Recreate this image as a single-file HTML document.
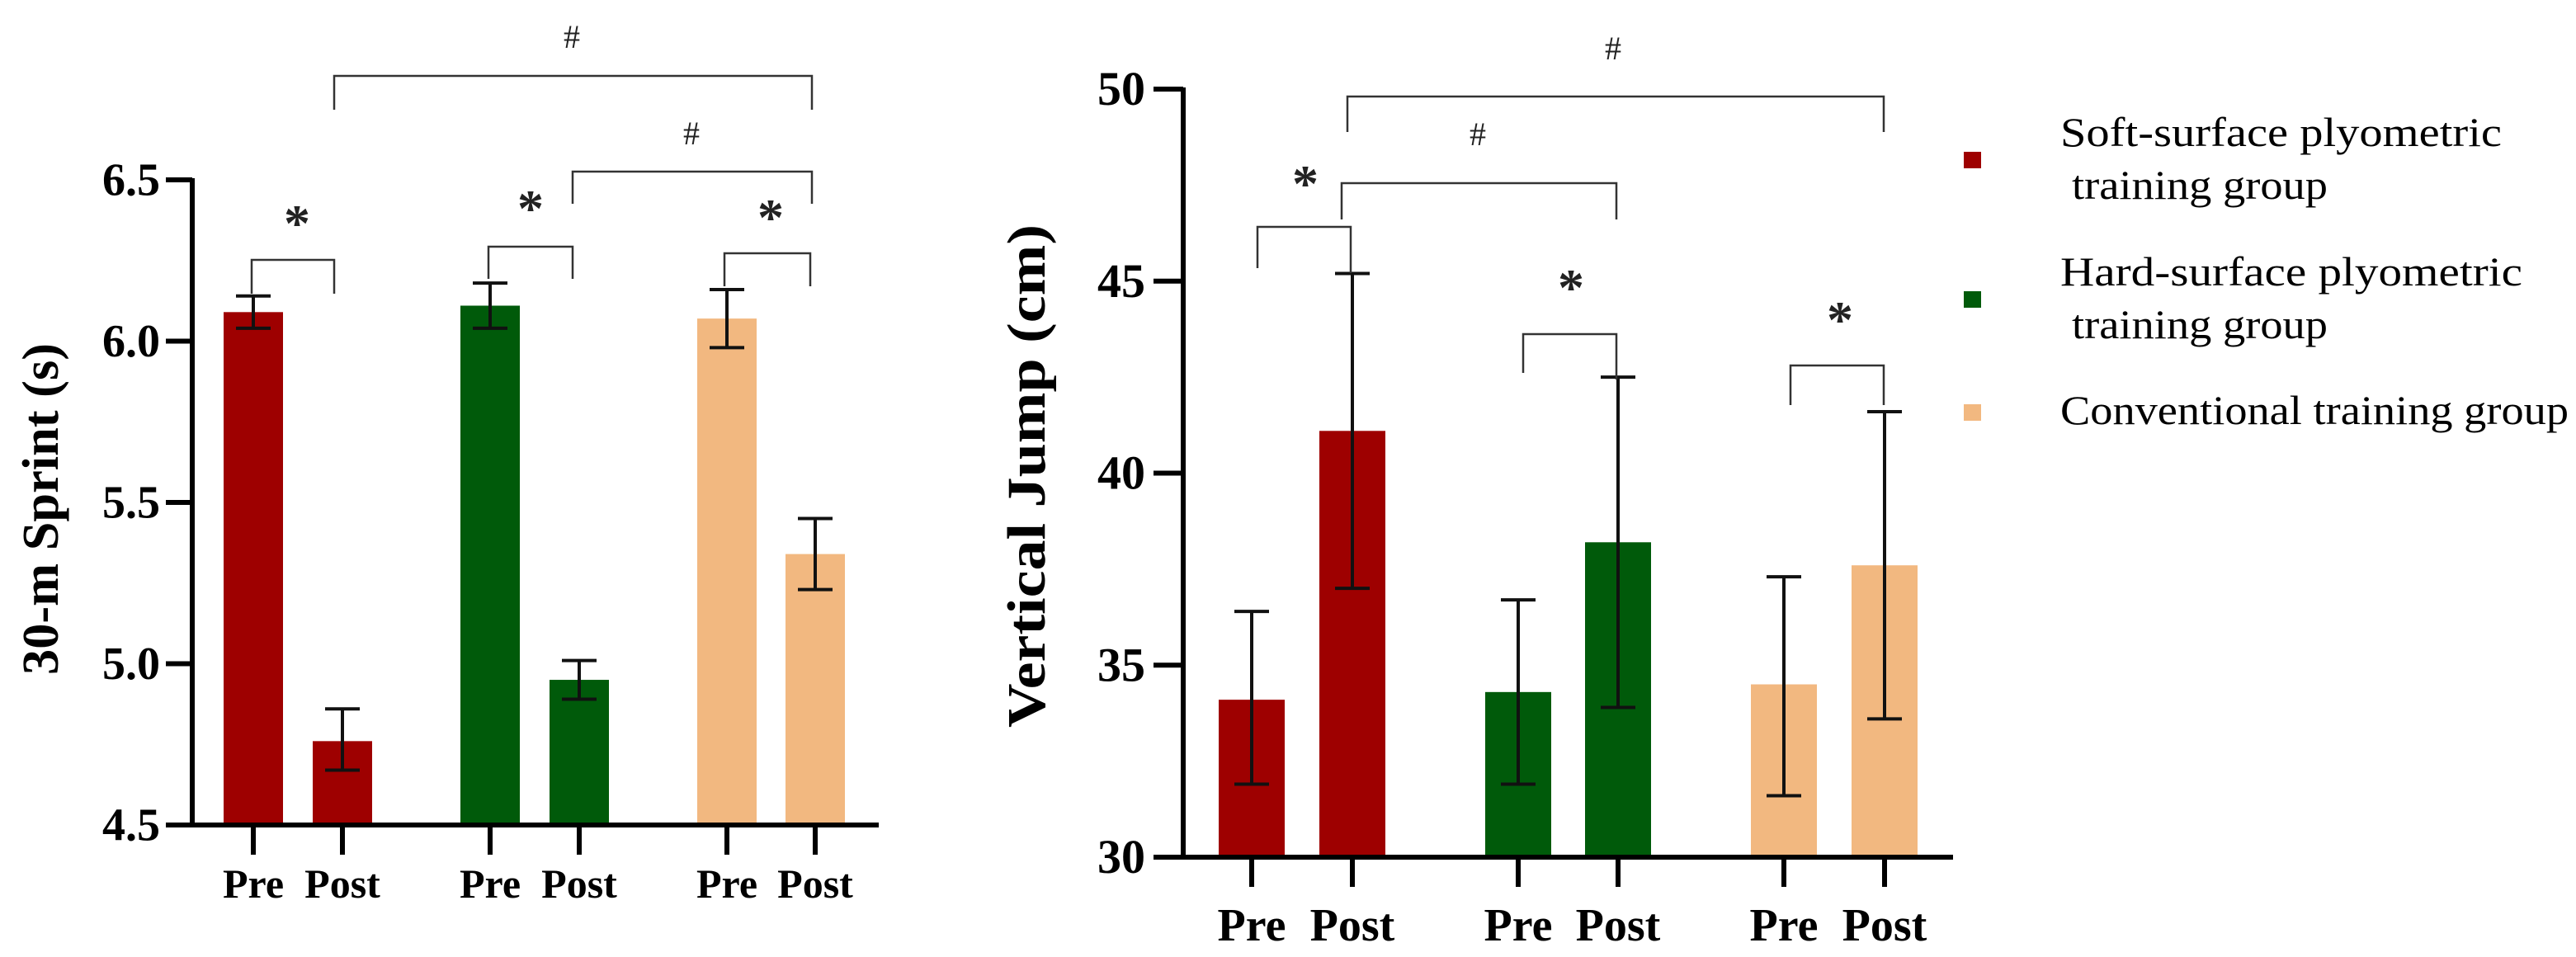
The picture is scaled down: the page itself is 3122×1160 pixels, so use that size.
<!DOCTYPE html>
<html><head><meta charset="utf-8">
<style>
html,body{margin:0;padding:0;background:#fff;}
svg{display:block;}
text{font-family:"Liberation Serif",serif;}
</style></head>
<body>
<svg id="fig" width="3122" height="1160" viewBox="0 0 3122 1160" xmlns="http://www.w3.org/2000/svg">
<g id="left"></g>
<g id="right"></g>
<g id="legend" font-family="'Liberation Serif', serif">
  <rect x="2380" y="184" width="21" height="20" fill="#9e0000"/>
  <text font-family="'Liberation Serif', serif" x="2497" y="177" font-size="50" textLength="535" lengthAdjust="spacingAndGlyphs">Soft-surface plyometric</text>
  <text font-family="'Liberation Serif', serif" x="2511" y="241" font-size="50" textLength="310" lengthAdjust="spacingAndGlyphs">training group</text>
  <rect x="2380" y="353" width="21" height="20" fill="#005a0a"/>
  <text font-family="'Liberation Serif', serif" x="2497" y="346" font-size="50" textLength="560" lengthAdjust="spacingAndGlyphs">Hard-surface plyometric</text>
  <text font-family="'Liberation Serif', serif" x="2511" y="410" font-size="50" textLength="310" lengthAdjust="spacingAndGlyphs">training group</text>
  <rect x="2380" y="490" width="21" height="20" fill="#f2b880"/>
  <text font-family="'Liberation Serif', serif" x="2497" y="514" font-size="50" textLength="616" lengthAdjust="spacingAndGlyphs">Conventional training group</text>
</g>
</svg>
<script>
const NS = "http://www.w3.org/2000/svg";
const categories = ["Pre","Post","Pre","Post","Pre","Post"];
const groupColors = ["#9e0000","#9e0000","#005a0a","#005a0a","#f2b880","#f2b880"];
const sprintMeans = [6.09, 4.76, 6.11, 4.95, 6.07, 5.34];
const sprintUpper = [6.14, 4.86, 6.18, 5.01, 6.16, 5.45];
const sprintLower = [6.04, 4.67, 6.04, 4.89, 5.98, 5.23];
const sprintTicks = ["4.5","5.0","5.5","6.0","6.5"];
const jumpMeans = [34.1, 41.1, 34.3, 38.2, 34.5, 37.6];
const jumpUpper = [36.4, 45.2, 36.7, 42.5, 37.3, 41.6];
const jumpLower = [31.9, 37.0, 31.9, 33.9, 31.6, 33.6];
const jumpTicks = ["30","35","40","45","50"];

function el(parent, tag, attrs, txt){
  const e = document.createElementNS(NS, tag);
  for (const k in attrs) e.setAttribute(k, attrs[k]);
  if (txt !== undefined) e.textContent = txt;
  parent.appendChild(e);
  return e;
}

function chart(g, cfg){
  const y = v => cfg.y0 + (v - cfg.vmin) / (cfg.vmax - cfg.vmin) * (cfg.y1 - cfg.y0);
  const x = i => cfg.centers[i];
  cfg.means.forEach((m,i)=>{
    const r = el(g,'rect',{x:x(i)-cfg.bw/2, y:y(m), width:cfg.bw, height:cfg.y0-y(m), fill:groupColors[i]});
    
    
  });
  cfg.means.forEach((m,i)=>{
    const e = el(g,'path',{d:`M${x(i)},${y(cfg.upper[i])}V${y(cfg.lower[i])}M${x(i)-cfg.cap},${y(cfg.upper[i])}h${2*cfg.cap}M${x(i)-cfg.cap},${y(cfg.lower[i])}h${2*cfg.cap}`, stroke:'#111', 'stroke-width':cfg.ew, fill:'none'});
    
    
  });
  const ax = el(g,'path',{d:`M${cfg.ax},${cfg.y1-2}V${cfg.y0}H${cfg.xend}`, stroke:'#000','stroke-width':cfg.aw,fill:'none'});
  
  
  cfg.ticks.forEach(t=>{
    const v = parseFloat(t);
    const tk = el(g,'line',{x1:cfg.ax-cfg.tl,x2:cfg.ax,y1:y(v),y2:y(v),stroke:'#000','stroke-width':cfg.aw});
    
    
    const tx = el(g,'text',{x:cfg.labelX,y:y(v)+cfg.fs*0.33,'text-anchor':'end','font-size':cfg.fs,'font-weight':'bold'},t);
    
    
  });
  categories.forEach((c,i)=>{
    const tk = el(g,'line',{x1:x(i),x2:x(i),y1:cfg.y0,y2:cfg.y0+cfg.xtl,stroke:'#000','stroke-width':cfg.aw});
    
    
    const tx = el(g,'text',{x:x(i),y:cfg.xlabY,'text-anchor':'middle','font-size':cfg.xfs,'font-weight':'bold'},c);
    
    
  });
  const tt = el(g,'text',{x:0,y:0,'text-anchor':'middle','font-size':cfg.tfs,'font-weight':'bold',transform:`translate(${cfg.titleX},${cfg.titleY}) rotate(-90)`,textLength:cfg.titleLen,lengthAdjust:'spacingAndGlyphs'},cfg.title);
  
  
  cfg.brackets.forEach(b=>{
    const p = el(g,'path',{d:`M${b[0]},${b[3]}V${b[2]}H${b[1]}V${b[4]}`,stroke:'#333','stroke-width':2.5,fill:'none'});
    
    
    const s = el(g,'text',{x:b[5],y:b[6],'text-anchor':'middle','font-size':b[7]=='*'?64:40,'font-weight':b[7]=='*'?'bold':'normal','font-family':'"Liberation Sans",sans-serif',fill:'#222'},b[7]);
    
    
  });
}

chart(document.getElementById('left'), {
  means:sprintMeans, upper:sprintUpper, lower:sprintLower, ticks:sprintTicks,
  vmin:4.5, vmax:6.5, y0:1000, y1:218, ax:233, xend:1065,
  centers:[307,415,594,702,881,988], bw:72, cap:21, ew:4, aw:6, tl:32, xtl:36,
  labelX:194, fs:56, xfs:50, xlabY:1088,
  title:"30-m Sprint (s)", titleX:70, titleY:617, tfs:62, titleLen:402,
  brackets:[
    [305,405,315,356,356,360,292,'*'],
    [592,694,299,338,338,643,274,'*'],
    [878,982,307,347,347,934,285,'*'],
    [405,984,92,133,133,693,58,'#'],
    [694,984,208,247,247,838,175,'#']
  ]
});
chart(document.getElementById('right'), {
  means:jumpMeans, upper:jumpUpper, lower:jumpLower, ticks:jumpTicks,
  vmin:30, vmax:50, y0:1039, y1:108, ax:1434, xend:2367,
  centers:[1517,1639,1840,1961,2162,2284], bw:80, cap:21, ew:4, aw:6, tl:36, xtl:36,
  labelX:1388, fs:58, xfs:56, xlabY:1140,
  title:"Vertical Jump (cm)", titleX:1266, titleY:577, tfs:66, titleLen:610,
  brackets:[
    [1524,1637,275,325,331,1582,244,'*'],
    [1846,1959,405,452,460,1904,370,'*'],
    [2170,2283,443,491,491,2230,409,'*'],
    [1633,2283,117,160,160,1955,72,'#'],
    [1626,1959,222,266,266,1791,176,'#']
  ]
});
</script>
</body></html>
